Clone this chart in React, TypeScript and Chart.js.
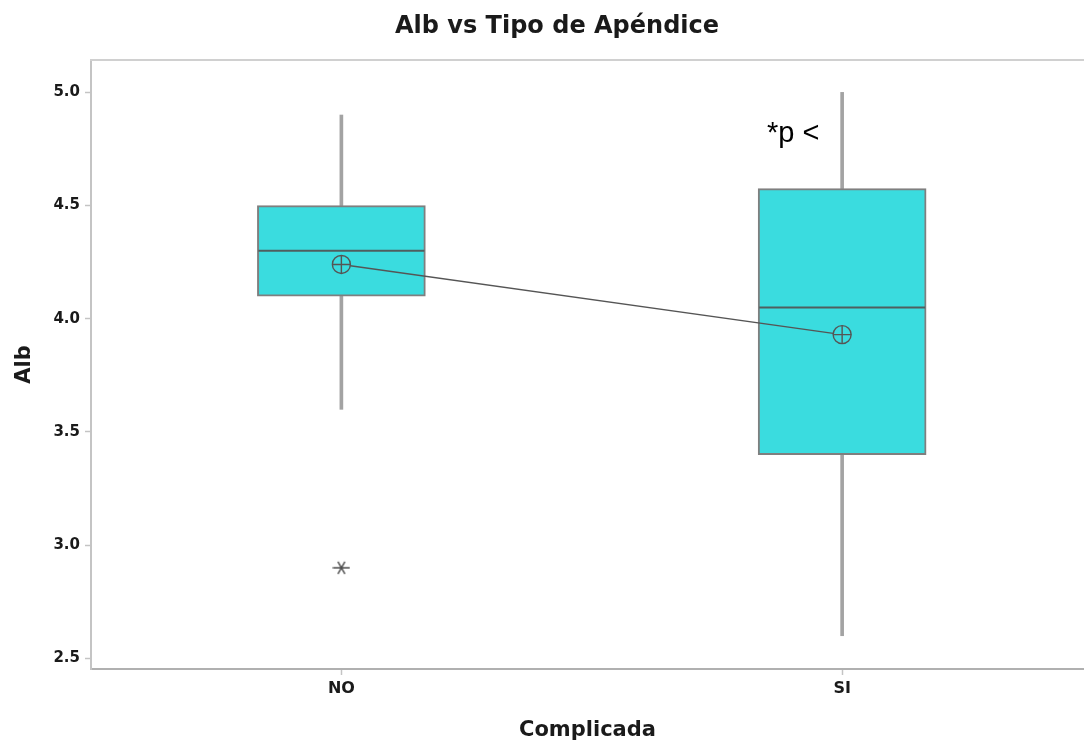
import React, { useEffect, useRef } from "react";
import { Chart, registerables } from "chart.js";

Chart.register(...registerables);

// Groups of the "Complicada" factor and where they sit on the x axis
const categories = ["NO", "SI"];
const positions = [1, 2];

// Five-number summaries of Alb per group
const whiskerLow = [3.6, 2.6];
const q1 = [4.1, 3.4];
const median = [4.3, 4.05];
const q3 = [4.5, 4.575];
const whiskerHigh = [4.9, 5.0];

// Group means (connected by a line)
const means = [4.24, 3.93];

// Outliers
const outlierGroup = [1];
const outlierValue = [2.9];

const yTicks = [2.5, 3.0, 3.5, 4.0, 4.5, 5.0];

const BOX_FILL = "#3adcdf";
const BOX_EDGE = "#7f7f7f";
const WHISKER = "#a3a3a3";
const DARK = "#555555";
const FRAME = "#c4c4c4";
const FONT = "'DejaVu Sans', 'Noto Sans', sans-serif";

function makeAsterisk(): HTMLCanvasElement {
  const c = document.createElement("canvas");
  c.width = 18;
  c.height = 16;
  const g = c.getContext("2d")!;
  g.strokeStyle = "#4a4a4a";
  g.lineWidth = 1.4;
  g.beginPath();
  g.moveTo(0.5, 8);
  g.lineTo(17.5, 8);
  g.moveTo(5.5, 1.9);
  g.lineTo(12.5, 14.1);
  g.moveTo(12.5, 1.9);
  g.lineTo(5.5, 14.1);
  g.stroke();
  return c;
}

export default function App() {
  const ref = useRef<HTMLCanvasElement | null>(null);

  useEffect(() => {
    if (!ref.current) return;

    const boxIndex = 2;

    const medianPlugin = {
      id: "medianLines",
      afterDatasetDraw(chart: any, args: any) {
        if (args.index !== boxIndex) return;
        const ctx = chart.ctx;
        const y = chart.scales.y;
        ctx.save();
        ctx.strokeStyle = "#4f5f5f";
        ctx.lineWidth = 2;
        args.meta.data.forEach((bar: any, i: number) => {
          const p = bar.getProps(["x", "width"], true);
          const py = y.getPixelForValue(median[i]);
          ctx.beginPath();
          ctx.moveTo(p.x - p.width / 2 + 1, py);
          ctx.lineTo(p.x + p.width / 2 - 1, py);
          ctx.stroke();
        });
        ctx.restore();
      },
    };

    const framePlugin = {
      id: "frameAndText",
      afterDraw(chart: any) {
        const ctx = chart.ctx;
        const a = chart.chartArea;
        ctx.save();
        ctx.strokeStyle = "#d0d0d0";
        ctx.lineWidth = 2;
        ctx.beginPath();
        ctx.moveTo(a.left - 1, a.top);
        ctx.lineTo(chart.width, a.top);
        ctx.stroke();

        ctx.fillStyle = "#1a1a1a";
        ctx.font = `bold 24px ${FONT}`;
        ctx.textAlign = "center";
        ctx.textBaseline = "middle";
        ctx.fillText("Alb vs Tipo de Apéndice", 557, 27);

        ctx.fillStyle = "#000000";
        ctx.font = "29px 'Liberation Sans', Arial, sans-serif";
        ctx.textAlign = "left";
        ctx.textBaseline = "alphabetic";
        ctx.fillText("*p <", 767, 142);
        ctx.restore();
      },
    };

    const lowWhiskers = positions.map((x, i) => ({ x, y: [whiskerLow[i], q1[i]] }));
    const highWhiskers = positions.map((x, i) => ({ x, y: [q3[i], whiskerHigh[i]] }));
    const boxes = positions.map((x, i) => ({ x, y: [q1[i], q3[i]] }));
    const meanPts = positions.map((x, i) => ({ x, y: means[i] }));
    const outlierPts = outlierGroup.map((x, i) => ({ x, y: outlierValue[i] }));

    const chart = new Chart(ref.current, {
      type: "bar",
      data: {
        datasets: [
          {
            type: "bar",
            data: lowWhiskers as any,
            backgroundColor: WHISKER,
            borderWidth: 0,
            barThickness: 3,
            grouped: false,
            order: 5,
          },
          {
            type: "bar",
            data: highWhiskers as any,
            backgroundColor: WHISKER,
            borderWidth: 0,
            barThickness: 3,
            grouped: false,
            order: 4,
          },
          {
            type: "bar",
            data: boxes as any,
            backgroundColor: BOX_FILL,
            borderColor: BOX_EDGE,
            borderWidth: 2,
            borderSkipped: false,
            barThickness: 168,
            grouped: false,
            order: 3,
          },
          {
            type: "line",
            data: meanPts as any,
            borderColor: DARK,
            borderWidth: 1.4,
            pointStyle: "circle",
            pointRadius: 9,
            pointBackgroundColor: BOX_FILL,
            pointBorderColor: DARK,
            pointBorderWidth: 1.4,
            order: 2,
          },
          {
            type: "scatter",
            data: meanPts as any,
            showLine: false,
            pointStyle: "cross",
            pointRadius: 9,
            borderColor: DARK,
            pointBorderWidth: 1.4,
            order: 1,
          },
          {
            type: "scatter",
            data: outlierPts as any,
            showLine: false,
            pointStyle: makeAsterisk() as any,
            order: 0,
          },
        ],
      },
      options: {
        responsive: false,
        animation: false,
        events: [],
        layout: { autoPadding: false, padding: { top: 60, left: 0, right: 0, bottom: 0 } },
        plugins: {
          legend: { display: false },
          tooltip: { enabled: false },
          title: { display: false },
        },
        scales: {
          x: {
            type: "linear",
            offset: false,
            min: 0.5,
            max: 2.483,
            afterFit(scale: any) {
              scale.height = 78;
              scale.paddingLeft = 0;
              scale.paddingRight = 0;
            },
            afterBuildTicks(scale: any) {
              scale.ticks = positions.map((v) => ({ value: v }));
            },
            ticks: {
              callback: (v: any) => categories[positions.indexOf(Number(v))] ?? "",
              color: "#1a1a1a",
              font: { family: FONT, size: 16, weight: "bold" },
              padding: 4,
              maxRotation: 0,
            },
            grid: { offset: false, drawOnChartArea: false, tickLength: 6, tickColor: FRAME, tickWidth: 1.5 },
            border: { display: true, color: "#b0b0b0", width: 2 },
            title: {
              display: true,
              text: "Complicada",
              color: "#1a1a1a",
              font: { family: FONT, size: 21, weight: "bold" },
              padding: { top: 0, bottom: 4 },
            },
          },
          y: {
            type: "linear",
            min: 2.453,
            max: 5.143,
            afterFit(scale: any) {
              scale.width = 91;
            },
            afterBuildTicks(scale: any) {
              scale.ticks = yTicks.map((v) => ({ value: v }));
            },
            ticks: {
              callback: (v: any) => Number(v).toFixed(1),
              color: "#1a1a1a",
              font: { family: FONT, size: 15, weight: "bold" },
              padding: 5,
            },
            grid: { drawOnChartArea: false, tickLength: 6, tickColor: FRAME, tickWidth: 1.5 },
            border: { display: true, color: FRAME, width: 2 },
            title: {
              display: true,
              text: "Alb",
              color: "#1a1a1a",
              font: { family: FONT, size: 21, weight: "bold" },
              padding: { top: 12, bottom: 0 },
            },
          },
        },
      },
      plugins: [medianPlugin, framePlugin],
    } as any);

    return () => chart.destroy();
  }, []);

  return (
    <canvas
      ref={ref}
      width={1084}
      height={747}
      style={{ position: "absolute", left: 0, top: 0, display: "block", background: "#ffffff" }}
    />
  );
}
